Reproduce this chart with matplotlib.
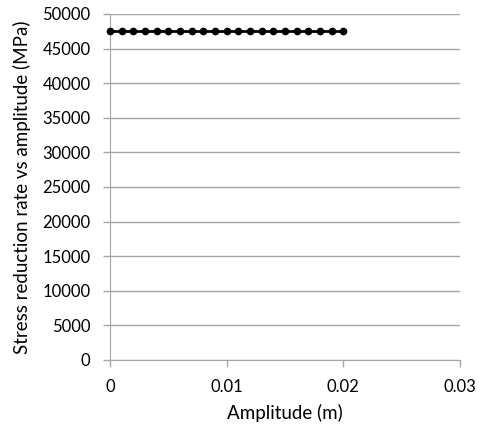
import matplotlib.pyplot as plt
import numpy as np

# amplitude samples (m) and the stress reduction rate at each one (MPa)
amplitude = [0.000, 0.001, 0.002, 0.003, 0.004, 0.005, 0.006, 0.007, 0.008, 0.009, 0.010,
             0.011, 0.012, 0.013, 0.014, 0.015, 0.016, 0.017, 0.018, 0.019, 0.020]
stress_rate = [47500] * 21

x_ticks = [0, 0.01, 0.02, 0.03]
x_tick_labels = ["0", "0.01", "0.02", "0.03"]
y_ticks = np.arange(0, 50001, 5000)

plt.rcParams['font.family'] = ['Lato', 'DejaVu Sans']

fig = plt.figure(figsize=(4.81, 4.24), dpi=100)
ax = fig.add_axes([0.2287, 0.151, 0.7276, 0.816])

ax.plot(amplitude, stress_rate, color='black', lw=2, marker='o', markersize=4.5,
        zorder=3, clip_on=False)

ax.set_xlim(0, 0.03)
ax.set_ylim(0, 50000)
ax.set_xticks(x_ticks)
ax.set_xticklabels(x_tick_labels)
ax.set_yticks(y_ticks)
ax.yaxis.grid(True, color='#a6a6a6', lw=1)
ax.set_axisbelow(True)

for side in ['top', 'right']:
    ax.spines[side].set_visible(False)
for side in ['left', 'bottom']:
    ax.spines[side].set_color('#a6a6a6')
ax.tick_params(axis='both', colors='#a6a6a6', labelcolor='black', labelsize=12,
               direction='out', length=5, width=1, pad=9)

ax.set_xlabel("Amplitude (m)", fontsize=13.5, labelpad=6)
ax.set_ylabel("Stress reduction rate vs amplitude (MPa)", fontsize=13.5, labelpad=8)

fig.savefig("out.png", dpi=100)
